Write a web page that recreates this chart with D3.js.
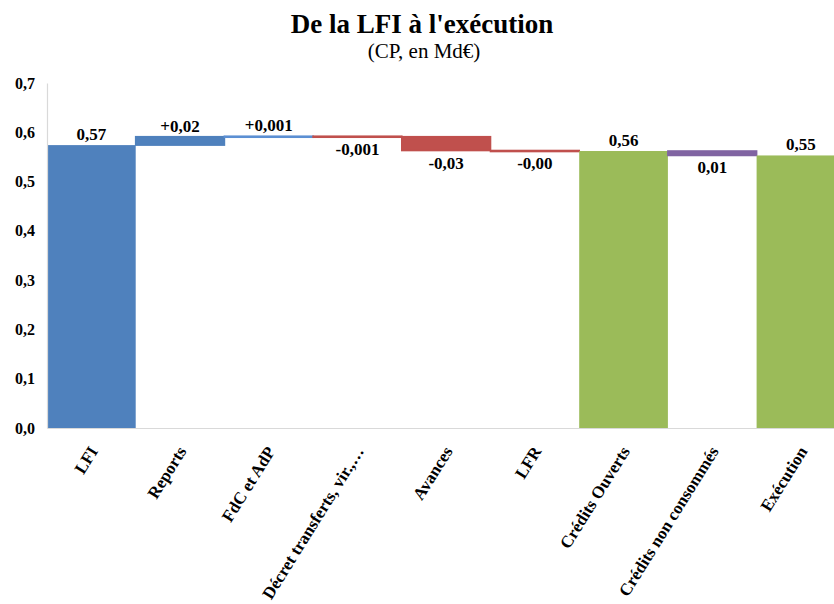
<!DOCTYPE html>
<html>
<head>
<meta charset="utf-8">
<script src="https://cdn.jsdelivr.net/npm/d3@7"></script>
<style>
  html, body { margin: 0; padding: 0; background: #fff; }
  svg { display: block; font-family: "Liberation Serif", "Times New Roman", serif; }
</style>
</head>
<body>
<svg id="chart" width="834" height="604"></svg>
<script>
// Waterfall: from the initial finance law (LFI) to execution, CP in Md€
const categories = ["LFI", "Reports", "FdC et AdP", "Décret transferts, vir.,…", "Avances", "LFR",
                    "Crédits Ouverts", "Crédits non consommés", "Exécution"];
const values = [0.574, 0.017, 0.001, -0.001, -0.028, -0.001, 0.562, -0.009, 0.553];
const isTotal = [true, false, false, false, false, false, true, false, true];
const valueLabels = ["0,57", "+0,02", "+0,001", "-0,001", "-0,03", "-0,00", "0,56", "0,01", "0,55"];
const barColors = ["#4F81BD", "#4F81BD", "#5B8FD3", "#C0504D", "#C0504D", "#C0504D",
                   "#9BBB59", "#8064A2", "#9BBB59"];
const yTicks = [0, 0.1, 0.2, 0.3, 0.4, 0.5, 0.6, 0.7];

const svg = d3.select("#chart");
const left = 47, bandW = 88.7, yBottom = 428, yTop = 83;

const x = d3.scaleBand().domain(categories).range([left, left + bandW * categories.length]).padding(0);
const y = d3.scaleLinear().domain([0, 0.7]).range([yBottom, yTop]);

// running totals for floating bars
let running = 0;
const bars = categories.map((c, i) => {
  let lo, hi;
  if (isTotal[i]) { lo = 0; hi = values[i]; running = values[i]; }
  else { const s = running; running = s + values[i]; lo = Math.min(s, running); hi = Math.max(s, running); }
  return { c, lo, hi, v: values[i], label: valueLabels[i], color: barColors[i], total: isTotal[i] };
});

// title
svg.append("text").attr("x", 422).attr("y", 33).attr("text-anchor", "middle")
  .style("font-size", "27px").style("font-weight", "bold").text("De la LFI à l'exécution");
svg.append("text").attr("x", 424).attr("y", 58).attr("text-anchor", "middle")
  .style("font-size", "21px").text("(CP, en Md€)");

// bars
svg.append("g").selectAll("rect").data(bars).join("rect")
  .attr("x", d => x(d.c))
  .attr("width", x.bandwidth())
  .attr("y", d => y(d.hi))
  .attr("height", d => Math.max(y(d.lo) - y(d.hi), 1))
  .attr("fill", d => d.color)
  .attr("stroke", d => d.color)
  .attr("stroke-width", d => d.total ? 0 : 1.6);

// axes
const yAxis = d3.axisLeft(y).tickValues(yTicks).tickSize(0).tickPadding(12)
  .tickFormat(d => d3.format(".1f")(d).replace(".", ","));
const gy = svg.append("g").attr("transform", `translate(${left},0)`).call(yAxis);
gy.select(".domain").attr("stroke", "#d9d9d9").attr("stroke-width", 1.2);
gy.selectAll("text").style("font-size", "16px").style("font-weight", "bold")
  .style("font-family", "'Liberation Serif', serif").attr("fill", "#000");

const xAxis = d3.axisBottom(x).tickSize(0).tickPadding(0);
const gx = svg.append("g").attr("transform", `translate(0,${yBottom})`).call(xAxis);
gx.select(".domain").attr("stroke", "#d9d9d9").attr("stroke-width", 1.2);
gx.selectAll("text")
  .style("font-size", "17px").style("font-weight", "bold")
  .style("font-family", "'Liberation Serif', serif").attr("fill", "#000")
  .attr("text-anchor", "end")
  .attr("dy", "0.35em")
  .attr("y", 0)
  .attr("transform", "translate(2,20) rotate(-58)");

// value labels
svg.append("g").selectAll("text").data(bars).join("text")
  .attr("x", d => x(d.c) + x.bandwidth() / 2)
  .attr("y", d => d.v >= 0 ? y(d.hi) - 5 : y(d.lo) + 18)
  .attr("text-anchor", "middle")
  .style("font-size", "17px").style("font-weight", "bold")
  .text(d => d.label);
</script>
</body>
</html>
